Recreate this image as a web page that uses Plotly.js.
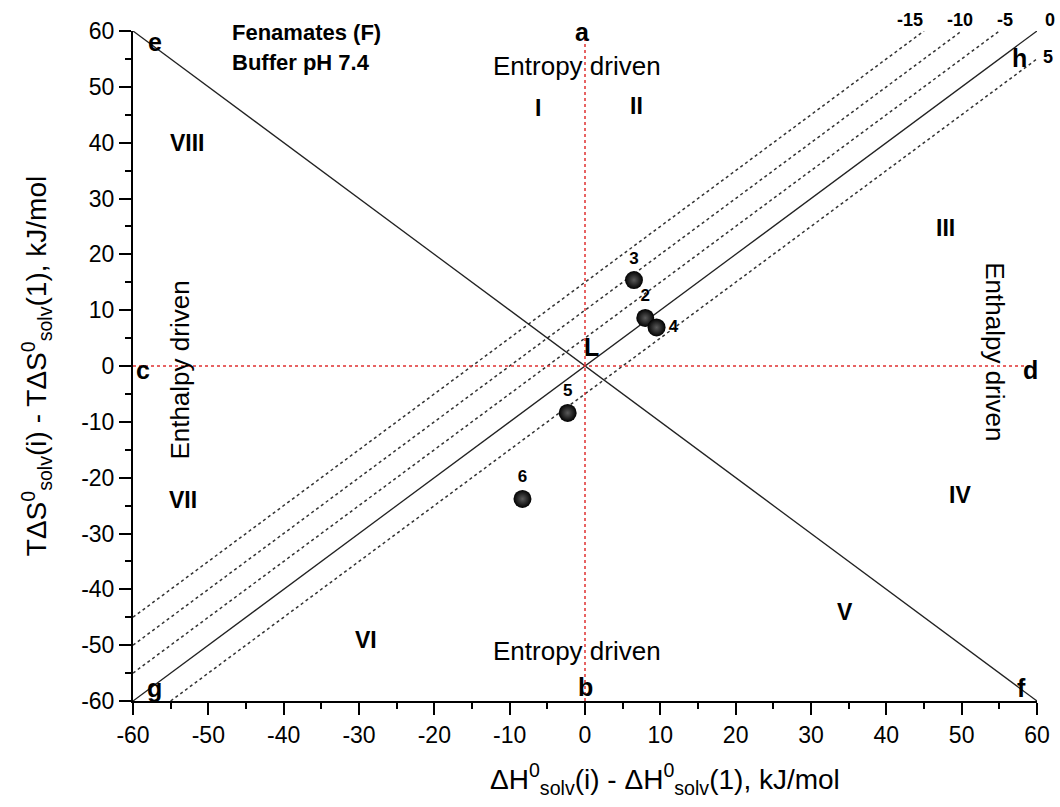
<!DOCTYPE html>
<html>
<head>
<meta charset="utf-8">
<script src="https://cdn.plot.ly/plotly-3.0.1.min.js"></script>
<style>html,body{margin:0;padding:0;background:#fff;}#plot{width:1060px;height:807px;}</style>
</head>
<body>
<div id="plot"></div>
<script>
// Relative solvation enthalpy and entropy terms of fenamates (kJ/mol)
const compounds = ['2', '3', '4', '5', '6'];
const dH = [8.0, 6.5, 9.5, -2.3, -8.3];
const TdS = [8.6, 15.4, 6.9, -8.4, -23.8];
const labelPos = ['top center', 'top center', 'middle right', 'top center', 'top center'];

// Iso-Gibbs-energy lines: dG = dH - TdS (kJ/mol)
const isoG = [-15, -10, -5, 5];
const isoLabels = ['-15', '-10', '-5', '0', '5'];
const isoLabelX = [0.8595, 0.9148, 0.9646, 1.0144, 1.0122];   // paper fractions
const isoLabelY = [1.016, 1.016, 1.016, 1.016, 0.961];

const lim = 60;
const tickVals = [-60, -50, -40, -30, -20, -10, 0, 10, 20, 30, 40, 50, 60];
const tickText = tickVals.map(v => String(v));
const minorVals = [-55, -45, -35, -25, -15, -5, 5, 15, 25, 35, 45, 55];

// Region and corner labels
const regionText = ['I', 'II', 'III', 'IV', 'V', 'VI', 'VII', 'VIII'];
const regionX = [-6.2, 6.8, 47.8, 49.8, 34.5, -29.1, -53.4, -52.7];
const regionY = [46.2, 46.6, 24.7, -23.1, -44.1, -49.1, -24.0, 39.9];

const pointText = ['a', 'b', 'c', 'd', 'e', 'f', 'g', 'h', 'L'];
const pointX = [-0.3, 0.0, -58.7, 59.1, -57.1, 58.0, -57.1, 57.7, 0.9];
const pointY = [59.9, -57.5, -0.7, -0.7, 58.0, -57.7, -57.7, 55.2, 3.4];

const xTitle = 'ΔH<sup>0</sup><sub>solv</sub>(i) - ΔH<sup>0</sup><sub>solv</sub>(1), kJ/mol';
const yTitle = 'TΔS<sup>0</sup><sub>solv</sub>(i) - TΔS<sup>0</sup><sub>solv</sub>(1), kJ/mol';

const traces = [];

// dotted iso lines
isoG.forEach(g => {
  const x0 = Math.max(-lim, -lim + g), x1 = Math.min(lim, lim + g);
  traces.push({x: [x0, x1], y: [x0 - g, x1 - g], mode: 'lines', type: 'scatter',
    line: {color: '#333', width: 1.5, dash: 'dot'}, hoverinfo: 'skip', showlegend: false});
});
// dG = 0 (solid) and the orthogonal diagonal
traces.push({x: [-lim, lim], y: [-lim, lim], mode: 'lines', type: 'scatter',
  line: {color: '#222', width: 1.3}, showlegend: false});
traces.push({x: [-lim, lim], y: [lim, -lim], mode: 'lines', type: 'scatter',
  line: {color: '#222', width: 1.3}, showlegend: false});
// red zero lines
traces.push({x: [0, 0], y: [-lim, lim], mode: 'lines', type: 'scatter',
  line: {color: '#e03030', width: 1.5, dash: 'dot'}, showlegend: false});
traces.push({x: [-lim, lim], y: [0, 0], mode: 'lines', type: 'scatter',
  line: {color: '#e03030', width: 1.5, dash: 'dot'}, showlegend: false});
// compounds
traces.push({x: dH, y: TdS, text: compounds, textposition: labelPos, mode: 'markers+text', type: 'scatter',
  marker: {size: 18, color: '#000', gradient: {type: 'radial', color: '#5a5a5a'}, line: {width: 0}},
  textfont: {family: 'Liberation Sans, Arial, sans-serif', size: 17, color: '#000', weight: 'bold'},
  cliponaxis: false, showlegend: false});

const ann = [];
const bold = (s) => '<b>' + s + '</b>';
const fam = 'Liberation Sans, Arial, sans-serif';
regionText.forEach((t, i) => ann.push({x: regionX[i], y: regionY[i], text: bold(t), showarrow: false,
  font: {family: fam, size: 23, color: '#000'}}));
pointText.forEach((t, i) => ann.push({x: pointX[i], y: pointY[i], text: bold(t), showarrow: false,
  font: {family: fam, size: 25, color: '#000'}}));
isoLabels.forEach((t, i) => ann.push({xref: 'paper', yref: 'paper', x: isoLabelX[i], y: isoLabelY[i],
  xanchor: 'center', yanchor: 'middle',
  text: bold(t), showarrow: false, font: {family: fam, size: 18, color: '#000'}}));
ann.push({x: -47.1, y: 59.8, text: bold('Fenamates (F)'), xanchor: 'left', showarrow: false,
  font: {family: fam, size: 22, color: '#000'}});
ann.push({x: -47.1, y: 54.3, text: bold('Buffer pH 7.4'), xanchor: 'left', showarrow: false,
  font: {family: fam, size: 22, color: '#000'}});
ann.push({x: -1.0, y: 53.8, text: 'Entropy driven', showarrow: false, font: {family: fam, size: 26, color: '#000'}});
ann.push({x: -1.05, y: -51, text: 'Entropy driven', showarrow: false, font: {family: fam, size: 26, color: '#000'}});
ann.push({x: -53.8, y: -0.7, text: 'Enthalpy driven', textangle: -90, showarrow: false, font: {family: fam, size: 26, color: '#000'}});
ann.push({x: 54.4, y: 2.5, text: 'Enthalpy driven', textangle: 90, showarrow: false, font: {family: fam, size: 26, color: '#000'}});
// x-axis title, set slightly right of the axis centre
ann.push({xref: 'paper', yref: 'paper', x: 0.5885, y: -0.1164, xanchor: 'center', yanchor: 'middle',
  text: xTitle, showarrow: false, font: {family: fam, size: 28, color: '#000'}});

const axisCommon = {
  range: [-lim, lim], tickmode: 'array', tickvals: tickVals, ticktext: tickText,
  ticks: 'outside', ticklen: 12, tickwidth: 2, tickcolor: '#000',
  showline: true, linewidth: 2, linecolor: '#000', showgrid: false, zeroline: false,
  tickfont: {family: fam, size: 23, color: '#000'},
  minor: {tickmode: 'array', tickvals: minorVals, ticks: 'outside', ticklen: 6, tickwidth: 2,
    tickcolor: '#000', showgrid: false}
};

const layout = {
  width: 1060, height: 807,
  margin: {l: 133, r: 23, t: 31, b: 106},
  paper_bgcolor: '#fff', plot_bgcolor: '#fff',
  showlegend: false,
  xaxis: Object.assign({}, axisCommon),
  yaxis: Object.assign({}, axisCommon, {
    title: {text: yTitle, font: {family: fam, size: 28, color: '#000'}, standoff: 26}
  }),
  annotations: ann
};

Plotly.newPlot('plot', traces, layout, {displayModeBar: false, staticPlot: true});
</script>
</body>
</html>
